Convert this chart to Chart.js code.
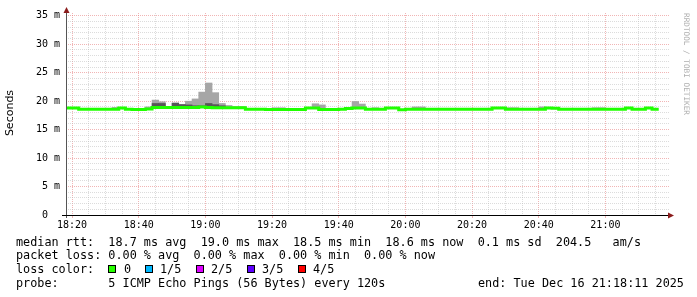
<!DOCTYPE html>
<html>
<head>
<meta charset="utf-8">
<script src="https://cdn.jsdelivr.net/npm/chart.js@4/dist/chart.umd.min.js"></script>
<style>
body { margin: 0; background: #fff; }
#wrap { position: relative; width: 697px; height: 297px; overflow: hidden; background: #fff; }
#wrap canvas { position: absolute; left: 0; top: 0; }
.t { position: absolute; font-family: "DejaVu Sans Mono", monospace; font-size: 11.8px; line-height: 14px; white-space: pre; color: #000; }
.sq { position: absolute; width: 6px; height: 6px; border: 1px solid #000; }
#ytitle { position: absolute; left: -20px; top: 106px; width: 60px; line-height: 14px; text-align: center;
  font-family: "DejaVu Sans", sans-serif; font-size: 11px; color: #000; transform: rotate(-90deg); }
#mark { position: absolute; left: 626px; top: 59px; width: 120px; line-height: 10px; text-align: center;
  font-family: "DejaVu Sans Mono", monospace; font-size: 7.7px; color: #b0b0b0; transform: rotate(90deg); white-space: pre; }
</style>
</head>
<body>
<div id="wrap">
  <canvas id="c" width="697" height="297"></canvas>
  <div id="ytitle">Seconds</div>
  <div id="mark">RRDTOOL / TOBI OETIKER</div>
  <div class="t" style="left:16px;top:235px">median rtt:  18.7 ms avg  19.0 ms max  18.5 ms min  18.6 ms now  0.1 ms sd  204.5   am/s</div>
  <div class="t" style="left:16px;top:248px">packet loss: 0.00 % avg  0.00 % max  0.00 % min  0.00 % now</div>
  <div class="t" style="left:16px;top:262px">loss color:</div>
  <div id="loss"></div>
  <div class="t" style="left:16px;top:276px">probe:       5 ICMP Echo Pings (56 Bytes) every 120s</div>
  <div class="t" style="left:478px;top:276px">end: Tue Dec 16 21:18:11 2025</div>
</div>
<script>
// 3 hours, one sample every 2 minutes (x in minutes after 18:00)
const X_MIN = 18 + 11 / 60;      // 18:18:11
const X_MAX = 199.08;            // a few px past 21:18:11
const FIRST_SAMPLE = 18;         // first sample starts 18:18
const STEP = 2;

// median rtt (ms)
const median = [
  18.8, 18.8, 18.6, 18.6, 18.6, 18.6, 18.6, 18.6, 18.8, 18.6,
  18.55, 18.55, 18.65, 18.9, 18.9, 18.9, 18.9, 18.9, 18.9, 18.9,
  19.0, 18.9, 18.85, 18.85, 18.85, 18.85, 18.85, 18.6, 18.6, 18.6,
  18.55, 18.55, 18.55, 18.55, 18.55, 18.55, 18.8, 18.8, 18.55, 18.55,
  18.55, 18.6, 18.7, 18.8, 18.8, 18.6, 18.6, 18.6, 18.8, 18.8,
  18.5, 18.6, 18.6, 18.6, 18.6, 18.6, 18.6, 18.6, 18.6, 18.6,
  18.6, 18.6, 18.6, 18.6, 18.8, 18.8, 18.6, 18.6, 18.6, 18.6,
  18.6, 18.6, 18.8, 18.75, 18.6, 18.6, 18.6, 18.6, 18.6, 18.6,
  18.6, 18.6, 18.6, 18.6, 18.8, 18.6, 18.6, 18.8, 18.6
];

// slowest ping of each sample (light smoke top)
const smokeHi = [
  null, null, null, null, null, null, null, 18.9, null, null,
  null, null, 19.0, 20.2, 19.9, 19.1, 19.7, 19.45, 20.0, 20.4,
  21.6, 23.2, 21.5, 19.6, 19.25, 19.05, 19.05, null, null, null,
  null, 18.85, 18.85, null, null, null, null, 19.55, 19.35, null,
  null, null, 18.9, 19.95, 19.5, null, 18.85, null, null, null,
  null, null, 19.0, 19.0, null, null, null, null, null, null,
  null, null, null, null, null, null, 18.85, 18.85, null, null,
  null, 19.0, null, null, null, null, null, null, null, 18.85,
  18.85, null, null, null, null, null, null, null, null
];

// second slowest ping (dark smoke top)
const smokeMid = [
  null, null, null, null, null, null, null, null, null, null,
  null, null, null, 19.6, 19.6, null, 19.65, 19.4, 19.35, 19.2,
  19.2, 19.6, 19.4, 19.2, null, null, null, null, null, null,
  null, null, null, null, null, null, null, null, null, null,
  null, null, null, null, null, null, null, null, null, null,
  null, null, null, null, null, null, null, null, null, null,
  null, null, null, null, null, null, null, null, null, null,
  null, null, null, null, null, null, null, null, null, null,
  null, null, null, null, null, null, null, null, null
];

const xTickLabels = ['18:20', '18:40', '19:00', '19:20', '19:40', '20:00', '20:20', '20:40', '21:00'];
const yTickLabels = ['0  ', '5 m', '10 m', '15 m', '20 m', '25 m', '30 m', '35 m'];

const lossLabels = ['0', '1/5', '2/5', '3/5', '4/5'];
const lossColors = ['#26ff00', '#00b8ff', '#dd00ff', '#5e00ff', '#ff0000'];
const lossSquareX = [108, 145, 196, 247, 298];
const lossTextX = [124, 160, 211, 262, 313];

// legend squares
const lossBox = document.getElementById('loss');
lossLabels.forEach((lab, i) => {
  const sq = document.createElement('div');
  sq.className = 'sq';
  sq.style.left = lossSquareX[i] + 'px';
  sq.style.top = '265px';
  sq.style.background = lossColors[i];
  lossBox.appendChild(sq);
  const t = document.createElement('div');
  t.className = 't';
  t.style.left = lossTextX[i] + 'px';
  t.style.top = '262px';
  t.textContent = lab;
  lossBox.appendChild(t);
});

const sampleStart = median.map((_, i) => FIRST_SAMPLE + STEP * i);
const last = median.length - 1;

const medianPts = median.map((v, i) => ({ x: sampleStart[i], y: v }));
medianPts.push({ x: sampleStart[last] + STEP, y: median[last] });

const lightPts = smokeHi.map((v, i) => ({ x: sampleStart[i] + STEP / 2, y: v == null ? null : [median[i], v] }));
const darkPts = smokeMid.map((v, i) => ({ x: sampleStart[i] + STEP / 2, y: v == null ? null : [median[i], v] }));

// minor grid every 5 min, major every 20 min
const xTicks = [];
for (let m = 20; m < X_MAX; m += 5) xTicks.push(m);
const yTicks = [];
for (let v = 0; v <= 35; v++) yTicks.push(v);

const MINOR = 'rgba(185,185,185,0.5)';
const MAJOR = 'rgba(230,120,120,0.55)';

// axis lines with arrow heads
const axisArrows = {
  id: 'axisArrows',
  afterDraw(chart) {
    const { ctx, chartArea: a } = chart;
    ctx.save();
    ctx.lineWidth = 1;
    ctx.strokeStyle = '#555';
    ctx.beginPath();
    ctx.moveTo(a.left + 0.5, a.bottom + 3);
    ctx.lineTo(a.left + 0.5, a.top - 2);
    ctx.stroke();
    ctx.strokeStyle = '#000';
    ctx.beginPath();
    ctx.moveTo(a.left - 4, a.bottom + 0.5);
    ctx.lineTo(a.right + 1, a.bottom + 0.5);
    ctx.stroke();
    ctx.fillStyle = '#8b1c1c';
    ctx.beginPath();
    ctx.moveTo(a.left + 0.5, a.top - 6);
    ctx.lineTo(a.left - 2.5, a.top);
    ctx.lineTo(a.left + 3.5, a.top);
    ctx.closePath();
    ctx.fill();
    ctx.beginPath();
    ctx.moveTo(a.right + 5, a.bottom + 0.5);
    ctx.lineTo(a.right - 1, a.bottom - 2.5);
    ctx.lineTo(a.right - 1, a.bottom + 3.5);
    ctx.closePath();
    ctx.fill();
    ctx.restore();
  }
};

new Chart(document.getElementById('c'), {
  data: {
    datasets: [{
      type: 'line',
      label: 'median rtt',
      data: medianPts,
      stepped: true,
      borderColor: '#20ff00',
      borderWidth: 3,
      borderCapStyle: 'butt',
      pointRadius: 0,
      order: 0
    }, {
      type: 'bar',
      label: 'smoke2',
      data: darkPts,
      backgroundColor: '#575757',
      borderWidth: 0,
      grouped: false,
      barPercentage: 1,
      categoryPercentage: 1,
      order: 1
    }, {
      type: 'bar',
      label: 'smoke1',
      data: lightPts,
      backgroundColor: '#a6a6a6',
      borderWidth: 0,
      grouped: false,
      barPercentage: 1,
      categoryPercentage: 1,
      order: 2
    }]
  },
  options: {
    responsive: false,
    animation: false,
    layout: { padding: { left: 0, right: 28, top: 13, bottom: 0 } },
    plugins: {
      legend: { display: false },
      tooltip: { enabled: false }
    },
    scales: {
      x: {
        type: 'linear',
        offset: false,
        min: X_MIN,
        max: X_MAX,
        afterFit: function(scale) { scale.height = 82; },
        afterBuildTicks: function(scale) { scale.ticks = xTicks.map(v => ({ value: v })); },
        ticks: {
          autoSkip: false,
          maxRotation: 0,
          padding: 1,
          color: '#000',
          font: { family: 'DejaVu Sans Mono', size: 10 },
          callback: function(value) {
            return value % 20 === 0 ? xTickLabels[value / 20 - 1] : '';
          }
        },
        grid: {
          offset: false,
          color: ctx => (ctx.tick && ctx.tick.value % 20 === 0 ? MAJOR : MINOR),
          tickColor: ctx => (ctx.tick && ctx.tick.value % 20 === 0 ? MAJOR : 'rgba(0,0,0,0)'),
          tickLength: 3,
          borderDash: [1, 1]
        },
        border: { display: false, dash: [1, 1] }
      },
      y: {
        min: 0,
        max: 35.5,
        afterFit: function(scale) { scale.width = 66; },
        afterBuildTicks: function(scale) { scale.ticks = yTicks.map(v => ({ value: v })); },
        ticks: {
          autoSkip: false,
          padding: 6,
          color: '#000',
          font: { family: 'DejaVu Sans Mono', size: 10 },
          callback: function(value) {
            return value % 5 === 0 ? yTickLabels[value / 5] : '';
          }
        },
        grid: {
          color: ctx => (ctx.tick && ctx.tick.value % 5 === 0 ? MAJOR : MINOR),
          drawTicks: false,
          borderDash: [1, 1]
        },
        border: { display: false, dash: [1, 1] }
      }
    }
  },
  plugins: [axisArrows]
});
</script>
</body>
</html>
